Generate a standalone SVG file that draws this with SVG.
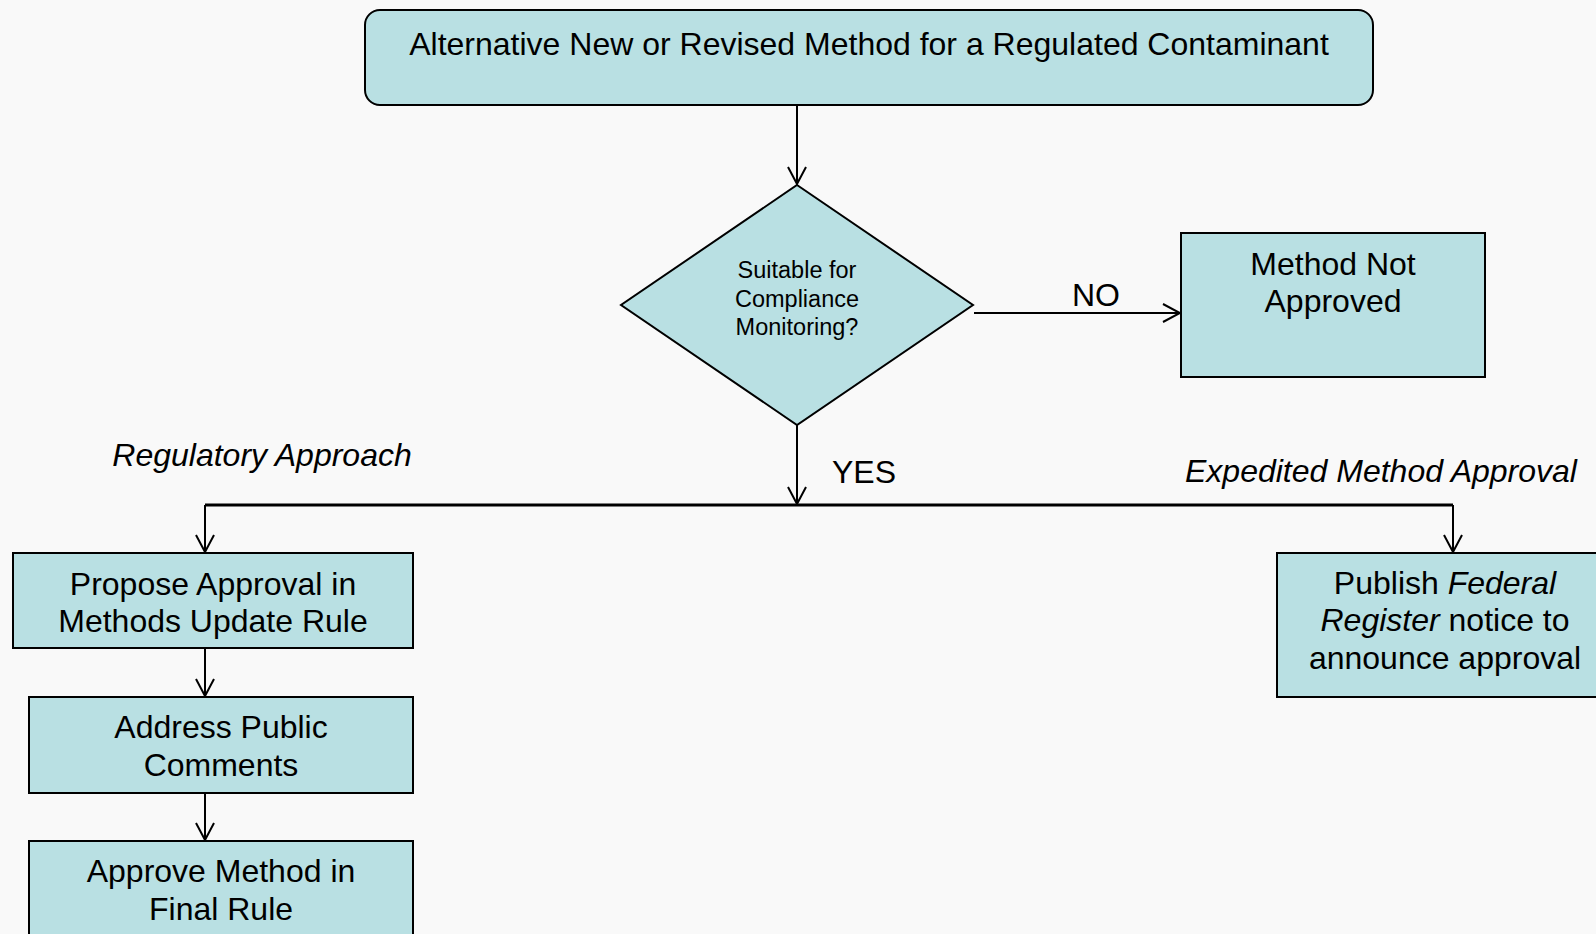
<svg xmlns="http://www.w3.org/2000/svg" width="1596" height="934" viewBox="0 0 1596 934">
<style>
.box{fill:#b9e0e3;stroke:#000;stroke-width:2}
.t{font-family:"Liberation Sans",Arial,sans-serif;font-size:32px;fill:#000;text-anchor:middle}
.s{font-family:"Liberation Sans",Arial,sans-serif;font-size:23.5px;fill:#000;text-anchor:middle}
.i{font-style:italic}
.c{fill:none;stroke:#000;stroke-width:2}
</style>
<defs>
<marker id="arr" viewBox="0 0 20 20" refX="18" refY="10" markerWidth="20" markerHeight="20" markerUnits="userSpaceOnUse" orient="auto">
<path d="M1,1 L18,10 L1,19" fill="none" stroke="#000" stroke-width="2"/>
</marker>
</defs>
<rect width="1596" height="934" fill="#f9f9f9"/>
<g id="connectors">
<path class="c" d="M797,105 L797,184" marker-end="url(#arr)"/>
<path class="c" d="M974,313 L1180,313" marker-end="url(#arr)"/>
<path class="c" d="M797,425 L797,504" marker-end="url(#arr)"/>
<path d="M205,505 L1453,505" fill="none" stroke="#000" stroke-width="3"/>
<path class="c" d="M205,505 L205,552" marker-end="url(#arr)"/>
<path class="c" d="M1453,505 L1453,552" marker-end="url(#arr)"/>
<path class="c" d="M205,648 L205,696" marker-end="url(#arr)"/>
<path class="c" d="M205,793 L205,840" marker-end="url(#arr)"/>
<text class="t" x="1096" y="306">NO</text>
<text class="t" x="864" y="483">YES</text>
<text class="t i" x="262" y="466">Regulatory Approach</text>
<text class="t i" x="1381" y="482">Expedited Method Approval</text>
</g>
<g id="start">
<rect class="box" x="365" y="10" width="1008" height="95" rx="15"/>
<text class="t" x="869" y="55">Alternative New or Revised Method for a Regulated Contaminant</text>
</g>
<g id="decision">
<polygon class="box" points="797,185 973,305 797,425 621,305"/>
<text class="s" x="797" y="278">Suitable for</text>
<text class="s" x="797" y="307">Compliance</text>
<text class="s" x="797" y="335">Monitoring?</text>
</g>
<g id="not-approved">
<rect class="box" x="1181" y="233" width="304" height="144"/>
<text class="t" x="1333" y="275">Method Not</text>
<text class="t" x="1333" y="312">Approved</text>
</g>
<g id="propose">
<rect class="box" x="13" y="553" width="400" height="95"/>
<text class="t" x="213" y="595">Propose Approval in</text>
<text class="t" x="213" y="632">Methods Update Rule</text>
</g>
<g id="comments">
<rect class="box" x="29" y="697" width="384" height="96"/>
<text class="t" x="221" y="738">Address Public</text>
<text class="t" x="221" y="776">Comments</text>
</g>
<g id="final">
<rect class="box" x="29" y="841" width="384" height="110"/>
<text class="t" x="221" y="882">Approve Method in</text>
<text class="t" x="221" y="920">Final Rule</text>
</g>
<g id="publish">
<rect class="box" x="1277" y="553" width="340" height="144"/>
<text class="t" x="1445" y="594">Publish <tspan class="i">Federal</tspan></text>
<text class="t" x="1445" y="631"><tspan class="i">Register</tspan> notice to</text>
<text class="t" x="1445" y="669">announce approval</text>
</g>
</svg>
